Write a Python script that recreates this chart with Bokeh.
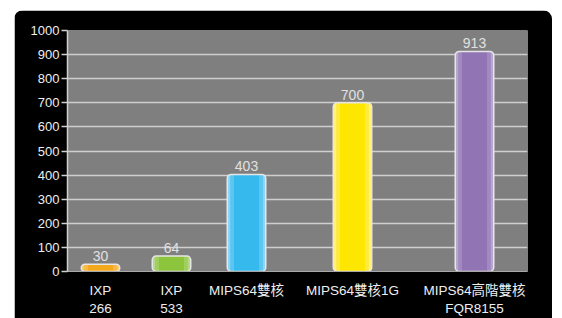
from bokeh.plotting import figure
from bokeh.models import Range1d, FixedTicker, ColumnDataSource
from bokeh.core.properties import value
from bokeh.embed import file_html
from bokeh.resources import INLINE

# ---- data ----
categories = ["IXP\n266", "IXP\n533", "MIPS64雙核", "MIPS64雙核1G", "MIPS64高階雙核\nFQR8155"]
values = [30, 64, 403, 700, 913]
y_ticks = [0, 100, 200, 300, 400, 500, 600, 700, 800, 900, 1000]

# ---- layout / style ----
slot_centers = [0.33, 1.04, 1.79, 2.85, 4.07]   # horizontal slot of each category (axis units)
bar_width = 0.385
base_colors = ["#f4a81c", "#8cc43c", "#36b9ec", "#fde600", "#9174b4"]
edge_colors = ["#f8c870", "#b4da84", "#8ad6f4", "#fff080", "#b9a6d0"]
mid_colors = ["#f6b846", "#a0cf60", "#5cc6f0", "#fdeb40", "#a28ac0"]

FONT = "Liberation Sans, Arial, Noto Sans CJK TC, sans-serif"

p = figure(width=538, height=308, output_backend="svg", toolbar_location=None,
           x_range=Range1d(0, 4.6), y_range=Range1d(0, 1000),
           min_border_left=53, min_border_right=25, min_border_top=20, min_border_bottom=46)
p.margin = (10, 0, 0, 14)
p.styles = {"border-radius": "9px 9px 0 0", "overflow": "hidden"}
p.background_fill_color = "#7f7f7f"
p.border_fill_color = "#000000"
p.outline_line_color = None

src = ColumnDataSource(dict(x=slot_centers, top=values, label=[str(v) for v in values],
                            base=base_colors, edge=edge_colors, mid=mid_colors))

# bar fills (lighter edges simulate the gradient)
p.vbar(x="x", top="top", width=bar_width, source=src, fill_color="edge",
       line_color=None, border_radius=4)
p.vbar(x="x", top="top", width=bar_width * 0.85, source=src, fill_color="mid",
       line_color=None)
p.vbar(x="x", top="top", width=bar_width * 0.65, source=src, fill_color="base",
       line_color=None)
# white outline on top
p.vbar(x="x", top="top", width=bar_width, source=src, fill_color=None,
       line_color="#e6e6e6", line_width=1.5, border_radius=4)

p.text(x="x", y="top", text="label", source=src, text_align="center",
       text_baseline="bottom", y_offset=-3, text_color="#e0e0e0",
       text_font=value(FONT), text_font_size="14px")

# y axis
ya = p.yaxis[0]
ya.ticker = FixedTicker(ticks=y_ticks)
ya.axis_line_color = "#d0d0d0"
ya.axis_line_width = 1.5
ya.major_tick_line_color = "#d0d0d0"
ya.major_tick_line_width = 1.5
ya.major_tick_out = 6
ya.major_tick_in = 0
ya.minor_tick_line_color = None
ya.major_label_text_color = "#eeeeee"
ya.major_label_text_font = FONT
ya.major_label_text_font_size = "13px"
ya.major_label_standoff = 2

# x axis
xa = p.xaxis[0]
xa.ticker = FixedTicker(ticks=slot_centers)
xa.major_label_overrides = {c: lab for c, lab in zip(slot_centers, categories)}
xa.axis_line_color = "#a8a8a8"
xa.axis_line_width = 1
xa.major_tick_line_color = None
xa.minor_tick_line_color = None
xa.major_tick_out = 0
xa.major_tick_in = 0
xa.major_label_text_color = "#eeeeee"
xa.major_label_text_font = FONT
xa.major_label_text_font_size = "13.5px"
xa.major_label_text_line_height = 1.2
xa.major_label_standoff = 11

p.xgrid.grid_line_color = None
p.ygrid.ticker = FixedTicker(ticks=y_ticks)
p.ygrid.grid_line_color = "#cfcfcf"
p.ygrid.grid_line_width = 1.5

open("out.html", "w").write(file_html(p, INLINE))
